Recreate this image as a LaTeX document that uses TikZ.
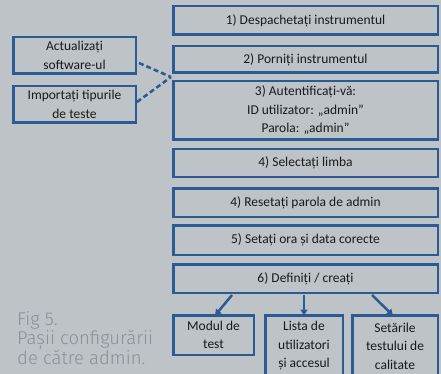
\documentclass[tikz,border=0pt]{standalone}
\usepackage{fontspec}
\setmainfont{Carlito}
\newfontfamily\capfont{Fira Sans Light}
\usetikzlibrary{arrows.meta}
\definecolor{bg}{HTML}{BDC3C7}
\definecolor{bd}{HTML}{2C5A92}
\definecolor{tx}{HTML}{1A1A1A}
\definecolor{cap}{HTML}{8A9095}
\begin{document}
\begin{tikzpicture}[x=1pt,y=-1pt,
  box/.style={draw=bd, line width=2.5pt, fill=bg, text=tx, align=center, inner sep=0pt,
    font=\fontsize{13.5}{18.5}\selectfont},
  dashline/.style={draw=bd, line width=2.5pt, dash pattern=on 5pt off 3pt},
  arr/.style={draw=bd, line width=2.5pt, -{Triangle[length=6pt,width=7pt]}}]
\useasboundingbox (0,0) rectangle (441,374);
\fill[bg] (0,0) rectangle (441,374);
\begin{scope}
\clip (0,0) rectangle (441,374);
\node[box, minimum width=264.5pt, minimum height=28.5pt] (b1) at (305.5,20.5) {1) Despachetați instrumentul};
\node[box, minimum width=264.5pt, minimum height=26.5pt] (b2) at (305.5,59.5) {2) Porniți instrumentul};
\node[box, minimum width=264.5pt, minimum height=58.5pt] (b3) at (305.5,110.5) {3) Autentificați-vă:\\ID utilizator: „admin”\\Parola: „admin”};
\node[box, minimum width=264.5pt, minimum height=27.5pt] (b4) at (305.5,163) {4) Selectați limba};
\node[box, minimum width=264.5pt, minimum height=28.5pt] (b5) at (305.5,202.5) {4) Resetați parola de admin};
\node[box, minimum width=264.5pt, minimum height=29.5pt] (b6) at (305.5,240) {5) Setați ora și data corecte};
\node[box, minimum width=264.5pt, minimum height=28.5pt] (b7) at (305.5,278.5) {6) Definiți / creați};
\node[box, minimum width=80.5pt, minimum height=39.5pt] (modul) at (213.5,335) {Modul de\\test};
\node[box, minimum width=77.5pt, minimum height=61.5pt] (lista) at (304,346) {Lista de\\utilizatori\\și accesul};
\node[box, minimum width=85.5pt, minimum height=61.5pt] (setari) at (395,346) {Setările\\testului de\\calitate};
\node[box, minimum width=122.5pt, minimum height=36.5pt] (act) at (74.5,55.5) {Actualizați\\software-ul};
\node[box, minimum width=122.5pt, minimum height=36.5pt] (imp) at (74.5,104.5) {Importați tipurile\\de teste};
\coordinate (j) at (171,77);
\draw[dashline] ([xshift=2pt,yshift=-7.5pt]act.east) -- (j);
\draw[dashline] ([yshift=2.5pt]imp.east) -- (j);
\draw[arr] ([xshift=-73.5pt,yshift=-1pt]b7.south) -- ([xshift=1.5pt,yshift=-1.5pt]modul.north);
\draw[arr] ([yshift=-1pt]b7.south -| lista.north) -- ([yshift=-1.5pt]lista.north);
\draw[arr] ([xshift=66.5pt,yshift=-1pt]b7.south) -- ([xshift=-2pt,yshift=-1.5pt]setari.north);
\end{scope}
\node[anchor=north west, align=left, inner sep=0pt, text=cap, font=\capfont\fontsize{18.5}{19}\selectfont] (caption) at (17,311) {Fig 5.\\Pașii configurării\\de către admin.};
\end{tikzpicture}
\end{document}
